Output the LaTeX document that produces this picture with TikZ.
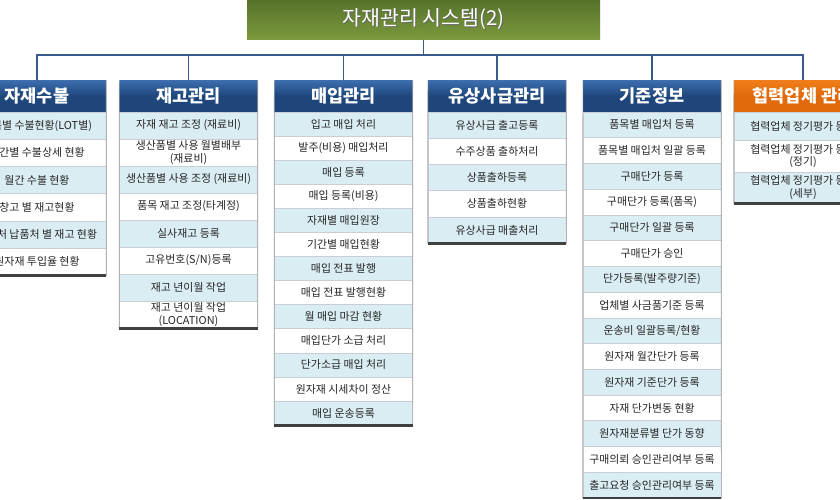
\documentclass[tikz,border=0pt]{standalone}
\usepackage{fontspec}
\setmainfont{Noto Sans CJK KR}
\definecolor{rowblue}{HTML}{DAEDF3}
\definecolor{sepgrey}{HTML}{C9CED2}
\definecolor{hdrtop}{HTML}{3D6EAE}
\definecolor{hdrbot}{HTML}{1E467B}
\definecolor{orgtop}{HTML}{F07D1A}
\definecolor{orgbot}{HTML}{E0690A}
\definecolor{greentop}{HTML}{56722A}
\definecolor{greenbot}{HTML}{7C993E}
\definecolor{busline}{HTML}{3A5A8C}
\definecolor{txtgrey}{HTML}{262626}
\newcommand\menucol[7]{%
  \node[#4] (#1h) at (#2,96) {#5};
  \foreach \t [count=\i, evaluate=\i as \c using {int(mod(\i,2))}] in {#6} {
    \pgfmathsetmacro\yy{112+(\i-0.5)*#3}
    \node[cell, row\c, minimum height=#3pt] (#1r\i) at (#2,\yy) {\t};
  }
  \draw[outline] (#1h.north west) -- (#1r#7.south west);
  \draw[outline] (#1h.north east) -- (#1r#7.south east);
  \draw[bottomline] (#1r#7.south west) -- (#1r#7.south east);
}
\begin{document}
\begin{tikzpicture}[x=1pt,y=-1pt,
  cell/.style={rectangle, draw=sepgrey, line width=0.6pt, minimum width=138pt,
    inner sep=0pt, align=center, text=txtgrey, font=\fontsize{10.9}{12.5}\selectfont},
  row1/.style={fill=rowblue},
  row0/.style={fill=white},
  hdrblue/.style={rectangle, minimum width=138pt, minimum height=32pt, inner sep=0pt,
    top color=hdrtop, bottom color=hdrbot, middle color=hdrbot, text=white,
    font=\bfseries\fontsize{17.5}{20}\selectfont},
  hdrorange/.style={hdrblue, top color=orgtop, bottom color=orgbot, middle color=orgbot},
  titlebox/.style={rectangle, minimum width=353pt, minimum height=40pt, inner sep=0pt,
    top color=greentop, bottom color=greenbot, text=white,
    font=\fontsize{20.5}{24}\selectfont},
  outline/.style={draw=gray!70, line width=0.6pt},
  bottomline/.style={draw=black!75, line width=2.4pt},
  conn/.style={draw=busline, line width=1.6pt}]
\useasboundingbox (0,0) rectangle (840,499);
\clip (0,0) rectangle (840,499);
\fill[white] (0,0) rectangle (840,499);

\node[titlebox] (title) at (423.5,19.5) {};
\node[text=black!60, font=\fontsize{20.5}{24}\selectfont, inner sep=0pt] (titleshadow) at ([shift={(1pt,-1pt)}]title.center) {자재관리 시스템(2)};
\node[text=white, font=\fontsize{20.5}{24}\selectfont, inner sep=0pt] (titletext) at (title.center) {자재관리 시스템(2)};

\menucol{a}{37}{27.2}{hdrblue}{자재수불}{품목별 수불현황(LOT별),기간별 수불상세 현황,월간 수불 현황,창고 별 재고현황,외주처 납품처 별 재고 현황,원자재 투입율 현황}{6}
\menucol{b}{188.5}{27}{hdrblue}{재고관리}{자재 재고 조정 (재료비),{생산품별 사용 월별배부\\(재료비)},생산품별 사용 조정 (재료비),품목 재고 조정(타계정),실사재고 등록,고유번호(S/N)등록,재고 년이월 작업,{재고 년이월 작업\\(LOCATION)}}{8}
\menucol{c}{343.5}{24.08}{hdrblue}{매입관리}{입고 매입 처리,발주(비용) 매입처리,매입 등록,매입 등록(비용),자재별 매입원장,기간별 매입현황,매입 전표 발행,매입 전표 발행현황,월 매입 마감 현황,매입단가 소급 처리,단가소급 매입 처리,원자재 시세차이 정산,매입 운송등록}{13}
\menucol{d}{497}{26.2}{hdrblue}{유상사급관리}{유상사급 출고등록,수주상품 출하처리,상품출하등록,상품출하현황,유상사급 매출처리}{5}
\menucol{e}{652}{25.73}{hdrblue}{기준정보}{품목별 매입처 등록,품목별 매입처 일괄 등록,구매단가 등록,구매단가 등록(품목),구매단가 일괄 등록,구매단가 승인,단가등록(발주량기준),업체별 사금품기준 등록,운송비 일괄등록/현황,원자재 월간단가 등록,원자재 기준단가 등록,자재 단가변동 현황,원자재분류별 단가 동향,구매의뢰 승인관리여부 등록,출고요청 승인관리여부 등록}{15}

\node[hdrorange] (fh) at (803,96) {협력업체 관리};
\node[cell, row1, minimum height=28pt] (fr1) at (803,126) {협력업체 정기평가 등록};
\node[cell, row0, minimum height=32pt] (fr2) at (803,156) {협력업체 정기평가 등록\\(정기)};
\node[cell, row1, minimum height=31pt] (fr3) at (803,187.5) {협력업체 정기평가 등록\\(세부)};
\draw[outline] (fh.north west) -- (fr3.south west);
\draw[bottomline] (fr3.south west) -- (fr3.south east);

\foreach \h in {ah,bh,ch,dh,eh,fh} {
  \draw[conn] (title.south) -- ++(0,15) -| (\h.north);
}
\end{tikzpicture}
\end{document}
